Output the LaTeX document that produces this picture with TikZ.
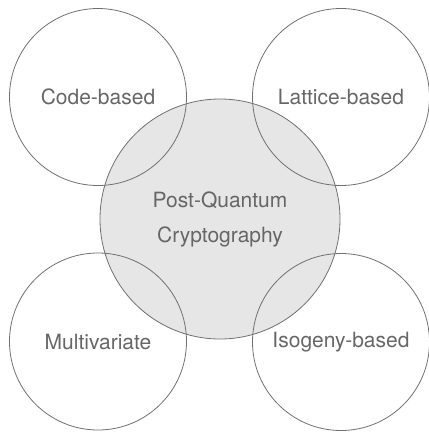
\documentclass[tikz,border=0pt]{standalone}
\usepackage{fontspec}
\setmainfont{TeX Gyre Heros}
\usepackage{tikz}
\usetikzlibrary{positioning}
\definecolor{pqfill}{HTML}{E6E6E6}
\definecolor{pqline}{HTML}{707070}
\definecolor{pqtext}{HTML}{666666}

\begin{document}
\begin{tikzpicture}[x=1pt, y=1pt,
  core/.style={circle, draw=pqline, fill=pqfill, line width=0.8pt,
               minimum size=240pt, inner sep=0pt, align=center,
               text=pqtext, font=\fontsize{21}{35}\selectfont},
  family/.style={circle, draw=pqline, line width=0.8pt,
                 minimum size=177pt, inner sep=0pt,
                 text=pqtext, font=\fontsize{21}{25}\selectfont}
]
\useasboundingbox (0,0) rectangle (429,-432);
% central field
\node[core] (pqc) at (220,-219) {Post-Quantum\\Cryptography};
% families
\node[family] (code)    at (98,-97)    {Code-based};
\node[family] (lattice) at (341,-97)   {Lattice-based};
\node[family] (multi)   at (98,-341.5) {Multivariate};
\node[family] (isogeny) at (341,-342)  {Isogeny-based};
\end{tikzpicture}
\end{document}
